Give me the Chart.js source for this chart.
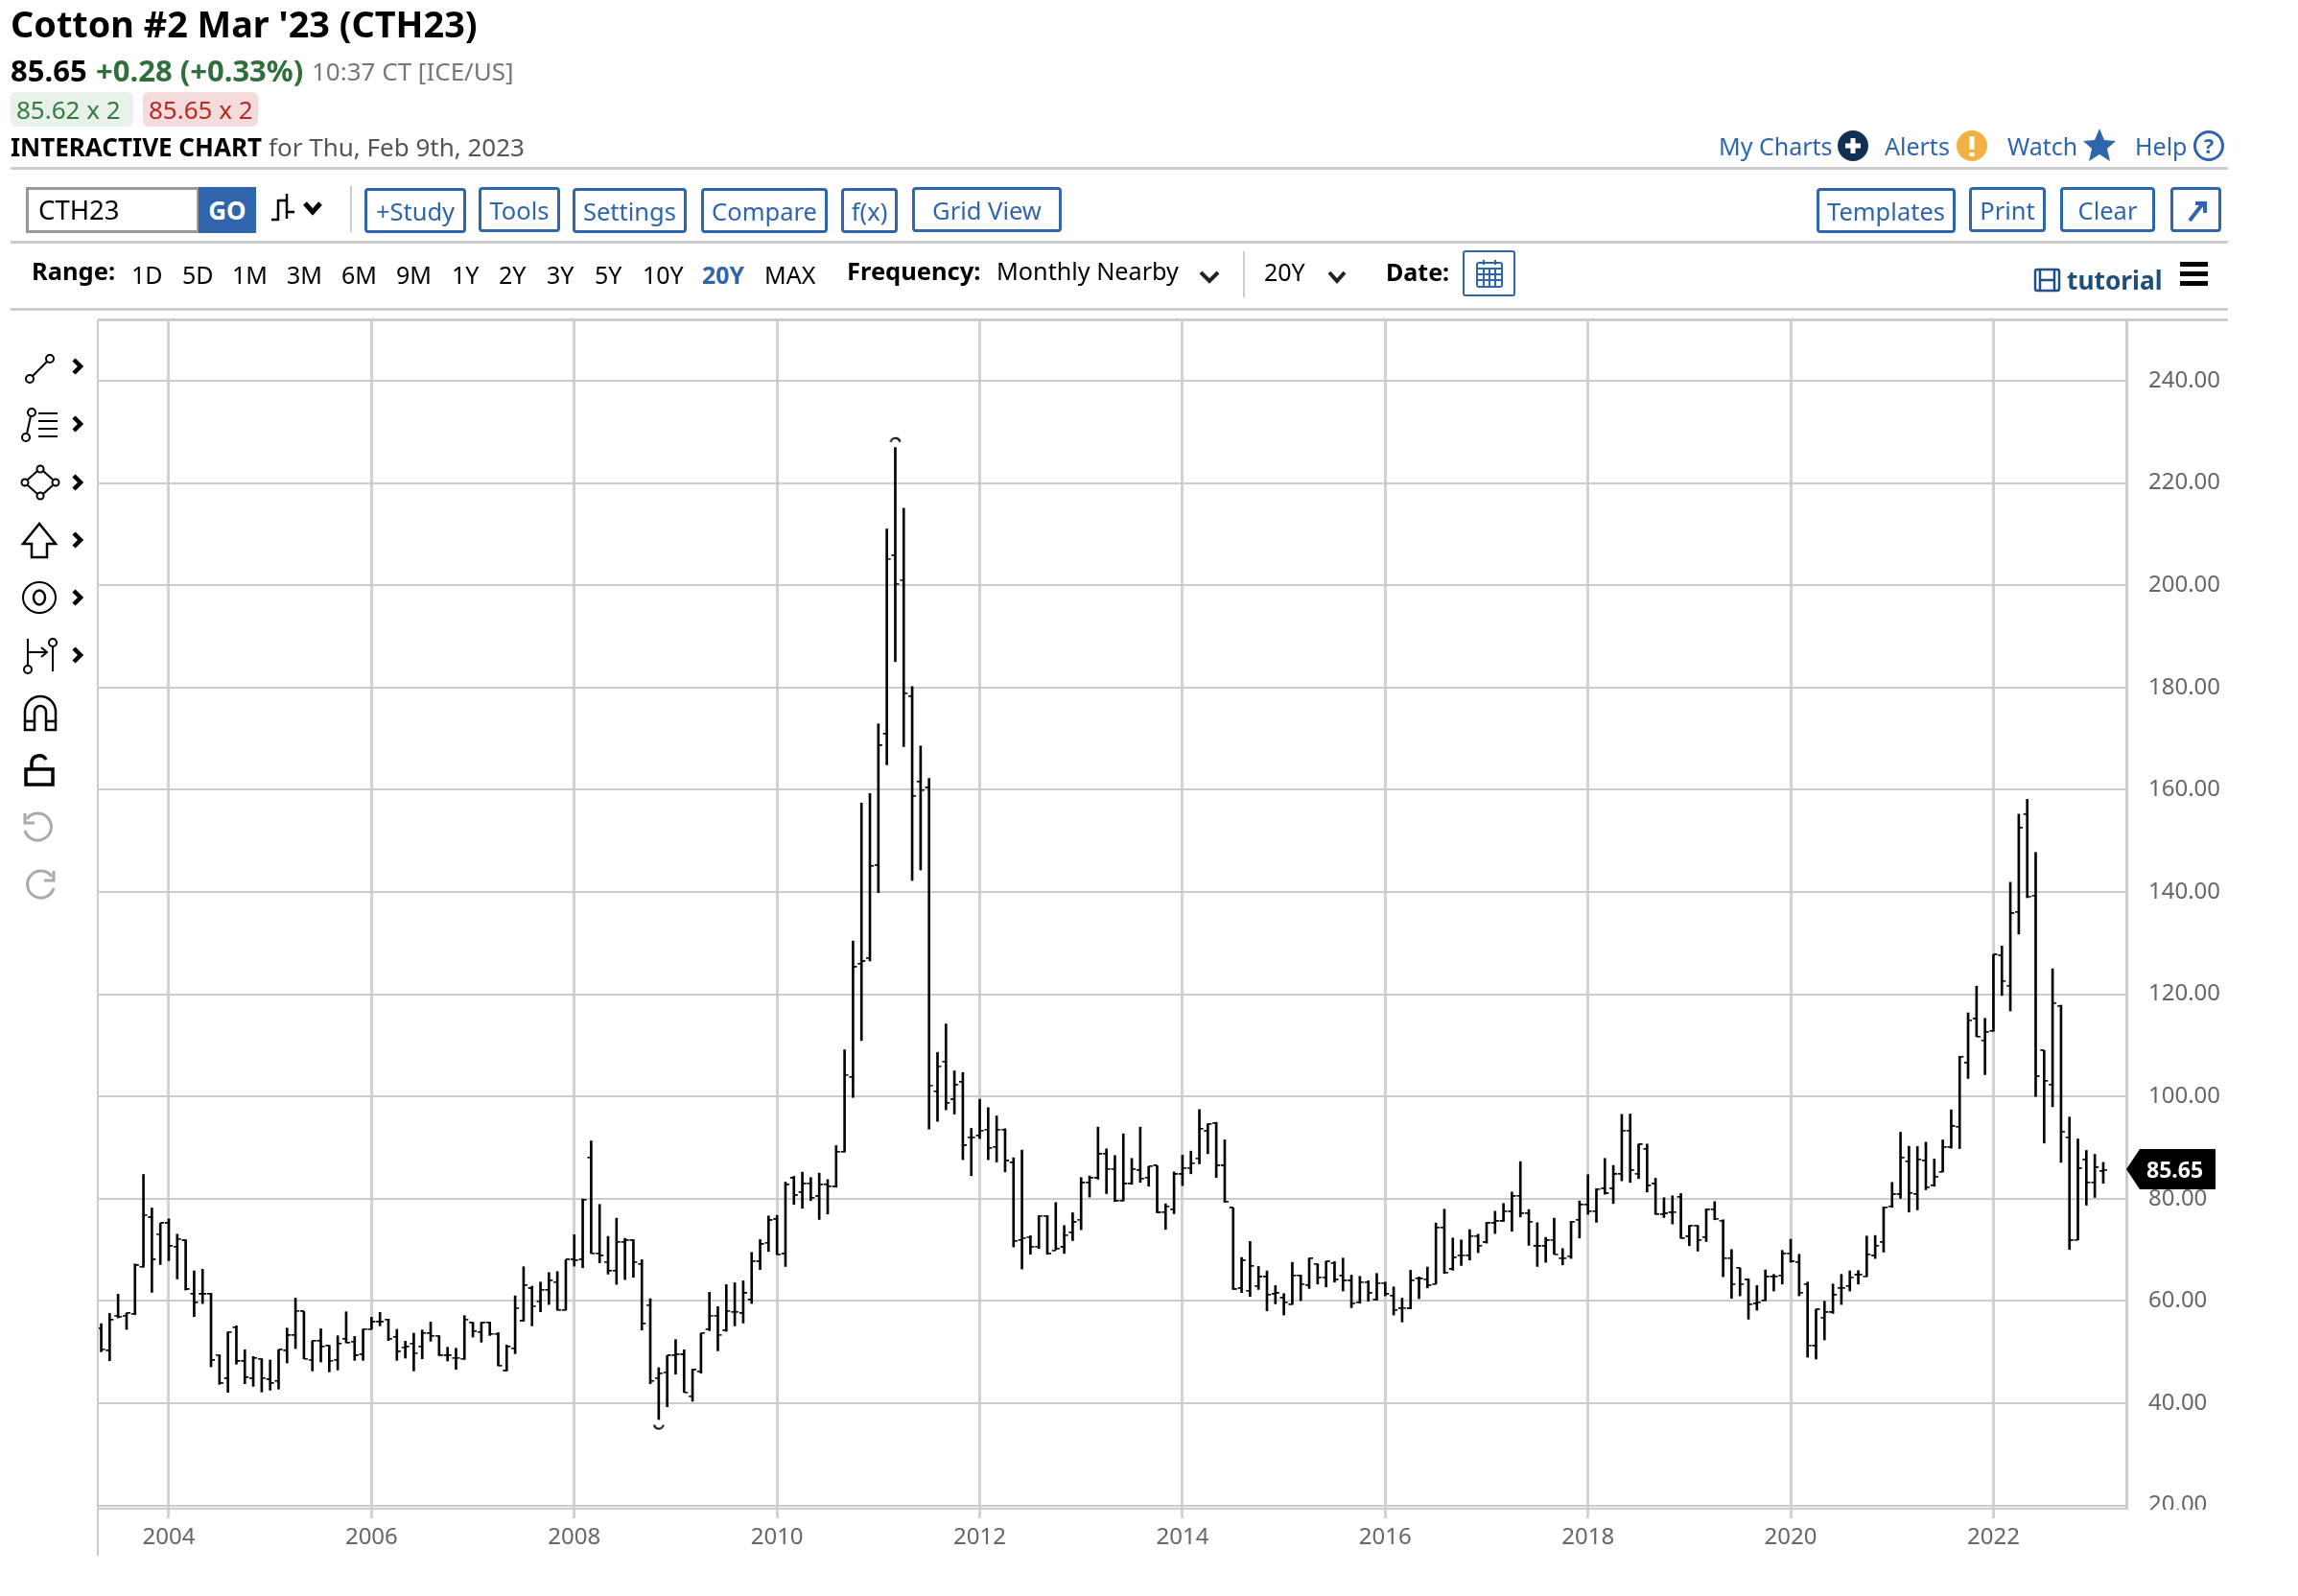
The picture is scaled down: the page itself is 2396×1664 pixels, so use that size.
<!DOCTYPE html>
<html><head><meta charset="utf-8">
<script src="https://cdn.jsdelivr.net/npm/chart.js@4"></script>
<style>
html,body{margin:0;padding:0;background:#fff;width:2396px;height:1664px;overflow:hidden;font-family:"Noto Sans",sans-serif}
.t{position:absolute;white-space:nowrap;line-height:1;transform:translateY(-50%)}
.g{color:#666}.k{color:#000}.bl{color:#2f65ad}
.b{position:absolute;box-sizing:border-box;border:3px solid #2f65ad;border-radius:4px;color:#2f65ad;text-align:center;font-size:25.5px;display:flex;align-items:center;justify-content:center;white-space:nowrap}
.hr{position:absolute;background:#ccc;height:3px}
.r{font-size:25px;color:#000}
svg{position:absolute;overflow:visible}
canvas{position:absolute;left:0;top:0}
</style></head><body>
<canvas id="c" width="2396" height="1664"></canvas>
<div class="hr" style="left:102px;top:332px;width:2221px;height:3px"></div>
<div class="hr" style="left:11px;top:174px;width:2312px"></div>
<div class="hr" style="left:11px;top:251px;width:2312px"></div>
<div class="hr" style="left:11px;top:321px;width:2312px"></div>
<div style="position:absolute;left:101px;top:333px;width:2px;height:1289px;background:#ccc"></div>
<div style="position:absolute;left:2218px;top:1574px;width:178px;height:22px;background:#fff"></div>

<div class="t k" style="left:11px;top:25px;font-size:37.8px;font-weight:700">Cotton #2 Mar '23 (CTH23)</div>
<div class="t k" style="left:11px;top:73px;font-size:31px;font-weight:700">85.65</div>
<div class="t" style="left:100px;top:73px;font-size:31px;font-weight:700;color:#2e6f3a">+0.28 (+0.33%)</div>
<div class="t" style="left:325px;top:74px;font-size:26px;color:#777">10:37 CT [ICE/US]</div>
<div style="position:absolute;left:11px;top:96px;width:128px;height:36px;background:#e8f1ea;border-radius:6px"></div>
<div class="t" style="left:17px;top:114px;font-size:26px;color:#357a41">85.62 x 2</div>
<div style="position:absolute;left:149px;top:96px;width:120px;height:36px;background:#f5dcdc;border-radius:6px"></div>
<div class="t" style="left:155px;top:114px;font-size:26px;color:#b52a22">85.65 x 2</div>
<div class="t k" style="left:11px;top:153px;font-size:26px;font-weight:700">INTERACTIVE CHART</div>
<div class="t" style="left:280px;top:153px;font-size:26px;color:#555">for Thu, Feb 9th, 2023</div>

<div class="t bl" style="left:1792px;top:152px;font-size:25px">My Charts</div>
<svg style="left:1916px;top:136px" width="32" height="32"><circle cx="16" cy="16" r="16" fill="#12304f"/><path d="M16 8v16M8 16h16" stroke="#fff" stroke-width="5"/></svg>
<div class="t bl" style="left:1965px;top:152px;font-size:25px">Alerts</div>
<svg style="left:2040px;top:136px" width="32" height="32"><circle cx="16" cy="16" r="16" fill="#f2b143"/><path d="M16 6v14M16 23v4" stroke="#fff" stroke-width="5"/></svg>
<div class="t bl" style="left:2093px;top:152px;font-size:25px">Watch</div>
<svg style="left:2172px;top:134px" width="34" height="34"><path d="M17 0l5 12 12 1-9 8 3 13-11-7-11 7 3-13-9-8 12-1z" fill="#2f65ad"/></svg>
<div class="t bl" style="left:2226px;top:152px;font-size:25px">Help</div>
<svg style="left:2287px;top:136px" width="32" height="32"><circle cx="16" cy="16" r="14.5" fill="none" stroke="#2f65ad" stroke-width="3"/><text x="16" y="24" font-size="22" font-weight="700" text-anchor="middle" fill="#2f65ad" font-family="Noto Sans">?</text></svg>

<div style="position:absolute;box-sizing:border-box;left:27px;top:195px;width:181px;height:48px;border:3px solid #999"></div>
<div class="t k" style="left:40px;top:219px;font-size:27.5px">CTH23</div>
<div style="position:absolute;left:207px;top:195px;width:60px;height:48px;background:#2f65ad;color:#fff;font-weight:700;font-size:26px;display:flex;align-items:center;justify-content:center">GO</div>
<svg style="left:283px;top:202px" width="56" height="30" fill="none" stroke="#000" stroke-width="2.5"><path d="M7 6v22M16 0v26M0 27h7M7 7h9M16 19h8"/><path d="M35 10l8 9 8-9" stroke-width="5"/></svg>
<div style="position:absolute;left:365px;top:194px;width:2px;height:48px;background:#ccc"></div>
<div class="b" style="left:380px;top:196px;width:106px;height:47px">+Study</div>
<div class="b" style="left:499px;top:195px;width:85px;height:47px">Tools</div>
<div class="b" style="left:597px;top:196px;width:119px;height:47px">Settings</div>
<div class="b" style="left:731px;top:196px;width:132px;height:47px">Compare</div>
<div class="b" style="left:877px;top:196px;width:59px;height:47px">f(x)</div>
<div class="b" style="left:951px;top:195px;width:156px;height:47px">Grid View</div>
<div class="b" style="left:1894px;top:196px;width:145px;height:47px">Templates</div>
<div class="b" style="left:2053px;top:195px;width:80px;height:47px">Print</div>
<div class="b" style="left:2148px;top:195px;width:99px;height:47px">Clear</div>
<div class="b" style="left:2263px;top:195px;width:53px;height:47px"><svg style="left:14px;top:10px" width="22" height="24" fill="none" stroke="#2f65ad" stroke-width="4"><path d="M3 22L17 4M9 4h10v10"/></svg></div>

<div class="t k" style="left:33px;top:283px;font-size:25.5px;font-weight:700">Range:</div>
<div class="t r" style="left:137px;top:286px">1D</div>
<div class="t r" style="left:190px;top:286px">5D</div>
<div class="t r" style="left:242px;top:286px">1M</div>
<div class="t r" style="left:299px;top:286px">3M</div>
<div class="t r" style="left:356px;top:286px">6M</div>
<div class="t r" style="left:413px;top:286px">9M</div>
<div class="t r" style="left:471px;top:286px">1Y</div>
<div class="t r" style="left:520px;top:286px">2Y</div>
<div class="t r" style="left:570px;top:286px">3Y</div>
<div class="t r" style="left:620px;top:286px">5Y</div>
<div class="t r" style="left:670px;top:286px">10Y</div>
<div class="t r" style="left:732px;top:286px;font-weight:700;color:#2f65ad">20Y</div>
<div class="t r" style="left:797px;top:286px">MAX</div>
<div class="t k" style="left:883px;top:283px;font-size:25.5px;font-weight:700">Frequency:</div>
<div class="t r" style="left:1039px;top:283px;font-size:25.2px">Monthly Nearby</div>
<svg style="left:1250px;top:282px" width="22" height="14" fill="none" stroke="#222" stroke-width="4"><path d="M2 2l9 9 9-9"/></svg>
<div style="position:absolute;left:1296px;top:262px;width:2px;height:48px;background:#ccc"></div>
<div class="t r" style="left:1318px;top:283px">20Y</div>
<svg style="left:1384px;top:282px" width="20" height="14" fill="none" stroke="#222" stroke-width="4"><path d="M2 2l8 9 8-9"/></svg>
<div class="t k" style="left:1445px;top:283px;font-size:25px;font-weight:700">Date:</div>
<div style="position:absolute;box-sizing:border-box;left:1525px;top:261px;width:55px;height:48px;border:2px solid #2f65ad;border-radius:3px"></div>
<svg style="left:1539px;top:270px" width="28" height="30" fill="none" stroke="#2f65ad" stroke-width="2"><rect x="1" y="4" width="26" height="25" rx="2"/><path d="M1 10h26M1 16h26M1 22h26M8 10v19M14 10v19M20 10v19M8 1v5M20 1v5"/></svg>
<svg style="left:2121px;top:280px" width="27" height="24" fill="none" stroke="#1f4e86" stroke-width="2.5"><rect x="1" y="1" width="25" height="22" rx="2"/><path d="M6 1v22M21 1v22M6 12h15"/></svg>
<div class="t" style="left:2155px;top:292px;font-size:26.3px;font-weight:700;color:#1f4e79">tutorial</div>
<svg style="left:2273px;top:273px" width="29" height="25"><path d="M0 2.5h29M0 12.5h29M0 22.5h29" stroke="#000" stroke-width="5"/></svg>

<svg style="left:26px;top:366px" width="34" height="34" fill="none" stroke="#000" stroke-width="2"><circle cx="5" cy="29" r="4"/><circle cx="26" cy="8" r="4"/><path d="M8 26L23 11"/></svg>
<svg style="left:22px;top:425px" width="42" height="36" fill="none" stroke="#000" stroke-width="2"><circle cx="5" cy="31" r="4"/><circle cx="11" cy="5" r="4"/><path d="M6 27L10 9M18 6h20M18 14h20M18 22h20M18 30h20"/></svg>
<svg style="left:22px;top:485px" width="40" height="36" fill="none" stroke="#000" stroke-width="2"><circle cx="4" cy="18" r="3.5"/><circle cx="20" cy="4" r="3.5"/><circle cx="36" cy="18" r="3.5"/><circle cx="20" cy="32" r="3.5"/><path d="M7 15L17 6M23 6L33 15M33 21L23 30M17 30L7 21"/></svg>
<svg style="left:23px;top:545px" width="36" height="36" fill="none" stroke="#000" stroke-width="2.5"><path d="M18 1L35 22H26V36H10V22H1Z"/></svg>
<svg style="left:23px;top:605px" width="36" height="36" fill="none" stroke="#000" stroke-width="2"><ellipse cx="18" cy="18" rx="17" ry="16"/><ellipse cx="18" cy="18" rx="6" ry="7.5" stroke-width="2.5"/></svg>
<svg style="left:23px;top:664px" width="38" height="38" fill="none" stroke="#000" stroke-width="2"><path d="M6 2V30"/><circle cx="6" cy="34" r="4"/><path d="M6 16H26M20 11l6 5-6 5"/><circle cx="32" cy="6" r="4"/><path d="M32 10V36"/></svg>
<svg style="left:24px;top:724px" width="36" height="38" fill="none" stroke="#000" stroke-width="2.5"><path d="M2 37V18a16 16 0 0 1 32 0V37H24V18a6 6 0 0 0-12 0V37Z"/><path d="M2 28H12M24 28H34"/></svg>
<svg style="left:25px;top:784px" width="32" height="36" fill="none" stroke="#000" stroke-width="3.5"><rect x="2" y="18" width="28" height="16"/><path d="M8 18V11a8 8 0 0 1 15-3"/></svg>
<svg style="left:22px;top:846px" width="36" height="32" fill="none" stroke="#aaa" stroke-width="3"><path d="M6 8a14 14 0 1 1 -2 12"/><path d="M4 2V12H14"/></svg>
<svg style="left:24px;top:906px" width="36" height="32" fill="none" stroke="#aaa" stroke-width="3"><path d="M30 8a14 14 0 1 0 2 12"/><path d="M32 2V12H22"/></svg>
<svg style="left:75px;top:373px" width="12" height="300" fill="none" stroke="#000" stroke-width="4.5"><path d="M2 2l7 7-7 7M2 62l7 7-7 7M2 123l7 7-7 7M2 183l7 7-7 7M2 243l7 7-7 7M2 303l7 7-7 7"/></svg>

<svg id="tagShape" style="left:2217px;top:0" width="93" height="42"><path d="M0 21L14 0H93V42H14Z" fill="#000"/></svg>
<div id="tagText" class="t" style="left:2238px;font-size:23px;font-weight:700;color:#fff">85.65</div>

<script>
const xTickIndex = [8,32,56,80,104,128,152,176,200,224];
const xTickLabels = ['2004','2006','2008','2010','2012','2014','2016','2018','2020','2022'];
const yTicks = [20,40,60,80,100,120,140,160,180,200,220,240];
const lastPrice = 85.65;
const extremeIndex = [66,94];
const extremeValue = [35.4,228.4];

const opens = [
54.63,50.25,57.13,57.13,57.44,66.69,76.31,73.06,
75.19,70.63,71.81,61.38,61.31,61.38,49.44,44.81,54.81,48.19,44.81,48.69,
44.63,44.31,50.25,53.25,57.94,48.5,52.13,51.19,48.5,52.56,52.06,49.5,
54.5,55.88,56.38,52.94,50.94,51.69,51.06,53.69,53.19,49.31,48.88,48.69,
55.75,53.94,55.75,53.56,46.31,50.69,56.06,62.44,59.94,62.13,63.69,58.19,
68.06,68.06,88.06,69.31,67.63,65.88,71.5,71.81,67.25,59.19,44.94,46.06,
49.31,49.5,41.38,46.19,54.44,57.13,54.19,57.88,57.56,60.25,67.69,71.38,
75.94,69.19,84,81.25,83,80.44,82.75,82.31,89.19,103.75,125.94,127,
145.19,170.94,205.81,201.06,178.25,161.56,160.38,101,106.88,99.38,102.81,92.06,
92.31,93.56,90.13,93.56,87.06,71.88,72.5,70.63,76.63,69.88,70.5,73.38,
75.88,83.19,84,88.81,85.81,79.56,82.88,85.56,84.13,86.44,77.31,77.88,
84.75,86,87.88,93.19,94.75,86.44,78.19,62.44,61.94,62.88,64.69,61.31,
60.56,59.31,64.94,63.06,67.25,64.63,67.44,64.94,63.94,59.75,63.69,60.19,
63.5,61,58.5,58.5,64.44,64.25,63.31,74.31,66.19,68.94,68.81,72.69,
71.44,75.19,75.56,77.44,80.56,77.13,70.69,70.69,71.94,68.38,68.75,75.88,
78.81,77.56,81.94,81.94,84.81,93.31,84.88,89.75,82.88,76.94,77.25,80.38,
72.56,74.75,72.44,77.88,75.69,68.31,66.44,64.13,59.44,60.06,64.75,64.94,
69.31,67.56,63.31,51.19,56.75,57.75,62.56,62.88,65.06,64.81,68.81,71.5,
78.5,80.81,87.31,80.88,87.44,82.56,85.25,90.06,94.03,106.54,115.16,111,
112.77,127.55,121.7,136.1,155.22,139.31,108.99,102.33,117.74,92.01,71.95,87.61,
83.21,85.37];
const highs = [
55.56,57.56,61.31,57.63,67.25,84.75,78.19,75.19,
76.06,73.06,71.94,65.88,66.19,61.5,49.44,53.94,55.13,50.44,49.13,48.69,
48.44,50.44,54.69,60.56,57.94,52.19,54.56,51.31,53.19,57.88,53.06,54.5,
56.81,57.75,56.44,54.44,52.13,53.69,54.31,55.88,53.19,50.94,50.75,57.13,
55.81,55.81,55.88,53.81,51.38,61,66.69,62.88,63.69,65.56,65.75,68.06,
72.94,79.94,91.31,78.88,72.63,76.19,72.25,72,68.06,60.44,46.94,49.31,
52.44,50.44,46.63,53.69,61.69,58.88,63.19,63.56,63.94,69.5,72,76.63,
76.75,83.25,84.38,85.19,84.13,85,83.75,90.38,109.13,130.4,157.4,159.25,
172.88,211,226.94,215.06,180.19,168.56,162.19,108.63,114.19,105,104.69,93.75,
99.44,97.81,96.19,93.69,88,89.5,72.75,76.69,76.69,79.25,74.75,77.25,
84.13,84.44,94,89.75,88.44,92.69,87.88,94,86.31,86.44,79,85.25,
88.5,89.31,97.44,94.63,94.94,91.5,78.19,68.5,71.63,66.75,65.88,63,
61.44,67.56,65.06,68.38,67.25,67.75,67.69,68.38,65.06,64.81,63.94,65.38,
63.69,62.75,60.56,66,64.69,66.63,75.25,77.94,72.31,71.94,73.94,73.06,
75.38,77.56,79.06,81.31,87.25,77.88,75.31,72.44,76.19,70.25,75.56,79.56,
84.69,81.94,87.88,86.5,96.5,96.56,90.69,90.69,84,80.19,80.56,81,
74.75,74.75,78,79.44,75.88,70.06,66.44,64.31,63,66.06,65.19,69.88,
72.06,69.13,63.69,58.38,59.94,63.31,65.19,65.88,65.94,72.69,72.81,78.38,
83.19,93,90.25,90.19,91.06,87.75,91.5,97.38,107.86,116.35,121.57,115.28,
127.74,129.43,141.89,155.22,158.11,147.74,108.99,124.97,117.86,95.97,91.7,89.43,
88.68,87.11];
const lows = [
50.06,48.31,56.69,54.44,57.31,66.63,61.69,67.13,
67.88,64.31,62.13,56.94,59.5,47.13,43.69,42.13,47.63,43.81,43.31,42.19,
42.56,42.75,47.88,50.69,48.69,46.31,48.06,46.13,46.5,51.81,48.38,48.38,
54.44,55.13,52.25,48.38,48.81,46.31,48.69,52.13,49.31,48.25,46.63,48.56,
52.94,51.94,53.25,47.31,46.31,49.69,56.06,55.13,57.88,59.31,58.19,58.19,
66.81,66.5,69.31,67.44,65.25,63.25,64.19,64.63,54.31,43.81,36.81,39.31,
45.69,42.13,40.38,45.88,54.19,50.25,54.06,55.13,55.69,59.5,66.13,69.69,
69.06,66.75,78.88,78.13,79.63,75.94,77,82.25,89.13,99.8,110.94,126.5,
139.88,164.88,185.06,168.44,142.25,144.31,93.63,95.13,97.38,96.56,87.63,84.5,
91.76,87.63,87.19,85.25,70.56,66.25,69.13,70.25,69.13,70,69.31,71.81,
73.94,80.31,83.81,81,79.44,79.56,82.81,83.19,82.44,77.25,74,77.06,
82.56,84.88,86.81,88.81,84.13,79.31,62.25,61.63,60.88,62.25,58.06,59.44,
57.25,59.31,60.06,62.44,63.31,62.75,63.69,61.94,58.69,59.56,59.94,60.13,
61,57.25,55.88,58.44,60.44,62.56,63.31,65.38,66,66.94,68,69.44,
71.31,73.19,75.56,73.63,76.44,70.88,66.75,67.56,69.13,67.06,68.31,72.31,
76.94,75.38,80.88,79.06,83.5,83.19,83.94,81.31,76.94,76.31,75.06,72.25,
70.81,69.75,71.63,75.88,64.75,60.5,61,56.44,58.19,60.06,61.94,63.31,
67.56,61,49,48.63,52.38,57.56,59.31,61.94,63.31,64.75,68.31,69.56,
78.31,80.06,77.38,77.81,81.75,82.44,85.25,89.88,89.81,103.52,111.7,104.28,
112.77,119.75,116.73,131.76,138.87,100,90.88,97.99,87.11,70.06,71.95,78.74,
80.25,83.02];
const closes = [
50.56,56.31,56.94,57.63,66.94,76.81,68.06,75.19,
70.75,72.13,62.25,59.63,61.31,48.38,43.88,53.94,48.19,45.06,48.81,44.94,
43.88,50.44,53.25,58.06,48.69,52.13,51.06,48.31,51.63,51.81,49.31,54.44,
55.88,55.88,52.63,50.06,51,49.81,53.69,53.19,49.31,49.31,48.88,56.38,
54.06,55.69,53.56,47.31,51.06,58.63,63.06,59,62.13,64,58.19,68.06,
67.94,79.81,69.31,68.81,65.88,71.5,71.81,67.63,55.56,44.31,45.88,49.31,
49.5,42.13,46.5,53.69,57.13,53.38,58.06,57.88,61.5,67.75,71.06,75.75,
69.13,82.75,80.63,82.88,80.19,82.75,82.44,89.19,104.25,125.3,126.4,145.06,
168.63,205.19,200.31,178.88,158.81,159.94,102.19,105.94,98.75,102.31,90.38,92,
93.31,89.88,93.56,87.38,71.69,72.31,70.63,76.63,69.25,70.19,72.88,75.38,
83.06,84.06,88.69,85.81,79.56,82.88,85.81,83.94,86.31,77.25,78.5,84.75,
86,86.94,93.63,94.56,86.44,79.44,62.25,67.88,66.81,64.69,61.19,61.5,
59.75,64.94,63.31,68.31,64.63,67.69,64.13,63.94,59.56,63.69,61.5,63.5,
61.31,58.19,58.63,64,64.31,63.06,74.31,65.56,68.5,68.94,72.69,70.81,
75.19,75.56,77.56,80.44,77.13,75.5,70.69,71.81,69.13,68.38,75.5,78.81,
77.56,81.88,81,84.75,93.31,85.56,90.56,82.56,76.94,77.06,77.38,72.25,
74.75,71.94,77.88,76.06,68.31,63.31,63.31,59.31,59.75,64.69,64.75,69.25,
67.69,61.63,51.31,58.31,57.75,61.19,62.56,64.63,65.06,69.13,70.81,78.31,
80.81,88,81.13,87.69,82.25,84.25,90.06,94.13,107.74,114.91,111.7,112.64,
127.74,122.64,135.79,152.52,139.12,103.9,103.08,118.3,93.14,71.82,85.91,83.21,
86.1,85.65];

function stamp(w,h,draw){const c=document.createElement('canvas');c.width=w;c.height=h;const g=c.getContext('2d');g.fillStyle='#000';g.strokeStyle='#000';draw(g);return c;}
const leftTick = stamp(10,2,g=>g.fillRect(1,0,4,1.6));
const rightTick = stamp(10,2,g=>g.fillRect(5,0,4,1.6));
const lowArc = stamp(14,8,g=>{g.lineWidth=2;g.beginPath();g.arc(7,1,5,0.2,Math.PI-0.2);g.stroke();});
const highArc = stamp(14,8,g=>{g.lineWidth=2;g.beginPath();g.arc(7,7,5,Math.PI+0.2,-0.2);g.stroke();});

const pts = arr => arr.map((v,i)=>({x:i,y:v}));
const chart = new Chart(document.getElementById('c'),{
  type:'bar',
  data:{datasets:[
    {type:'bar',label:'High-Low',data:highs.map((h,i)=>({x:i,y:[lows[i],h]})),backgroundColor:'#000',barThickness:2,grouped:false},
    {type:'scatter',label:'Open',data:pts(opens),pointStyle:leftTick,pointRadius:5},
    {type:'scatter',label:'Close',data:pts(closes),pointStyle:rightTick,pointRadius:5},
    {type:'scatter',label:'Extremes',data:extremeIndex.map((x,i)=>({x,y:extremeValue[i]})),pointStyle:[lowArc,highArc],pointRadius:7}
  ]},
  options:{
    responsive:false,animation:false,devicePixelRatio:1,
    layout:{padding:{left:102,top:333,right:0,bottom:0}},
    plugins:{legend:{display:false},tooltip:{enabled:false},title:{display:false}},
    scales:{
      x:{type:'linear',offset:false,min:-0.4,max:239.73,position:'bottom',
        afterBuildTicks:s=>{s.ticks=xTickIndex.map(value=>({value}));},
        afterFit:s=>{s.height=91;},
        grid:{offset:false,color:'#d2d2d2',lineWidth:3,tickLength:10,tickColor:'#d2d2d2',drawTicks:true},
        border:{color:'#ccc',width:2},
        ticks:{autoSkip:false,maxRotation:0,padding:6,color:'#666',font:{family:'Noto Sans',size:24},
          callback:v=>xTickLabels[xTickIndex.indexOf(v)]}
      },
      y:{type:'linear',position:'right',min:19.36,max:252,
        afterBuildTicks:s=>{s.ticks=yTicks.map(value=>({value}));},
        afterFit:s=>{s.width=179;},
        grid:{color:'#ccc',lineWidth:2,drawTicks:false},
        border:{color:'#ccc',width:3},
        ticks:{padding:23,color:'#666',font:{family:'Noto Sans',size:24},callback:v=>v.toFixed(2)}
      }
    }
  }
});
const py = chart.scales.y.getPixelForValue(lastPrice);
document.getElementById('tagShape').style.top=(py-21.5)+'px';
document.getElementById('tagText').style.top=(py-1)+'px';
</script>
</body></html>
